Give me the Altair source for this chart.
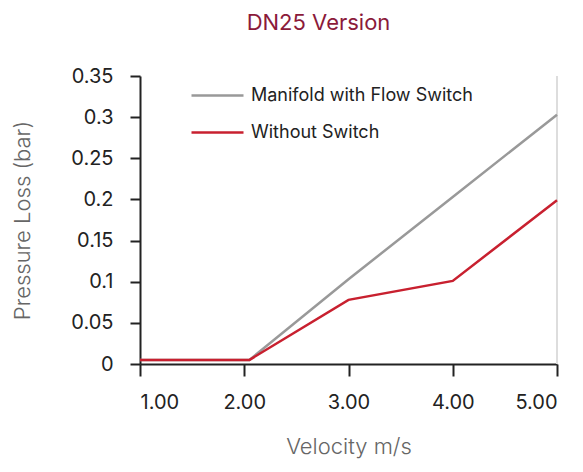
import altair as alt
import pandas as pd

velocity = [1.0, 2.05, 3.0, 4.0, 5.0]
manifold = [0.005, 0.005, 0.103, 0.203, 0.303]
without = [0.005, 0.005, 0.078, 0.101, 0.199]
series_names = ["Manifold with Flow Switch", "Without Switch"]
series_colors = ["#999999", "#C8202F"]

df_m = pd.DataFrame({"v": velocity, "p": manifold, "s": series_names[0]})
df_w = pd.DataFrame({"v": velocity, "p": without, "s": series_names[1]})

FONT = "Inter"
x_scale = alt.Scale(domain=[1, 5], nice=False, zero=False)

x_enc = alt.X("v:Q", scale=x_scale,
              axis=alt.Axis(title="Velocity m/s", values=[1, 2, 3, 4, 5], format=".2f",
                            grid=False, domainColor="#222222", domainWidth=2,
                            tickColor="#222222", tickWidth=2, tickSize=12,
                            labelFontSize=20, labelColor="#222222", labelPadding=16,
                            labelFont=FONT, titleFont=FONT, titleFontSize=22,
                            titleFontWeight=300, titleColor="#666666", titlePadding=24))
y_enc = alt.Y("p:Q", scale=alt.Scale(domain=[0, 0.35], nice=False),
              axis=alt.Axis(title="Pressure Loss (bar)", values=[0, 0.05, 0.1, 0.15, 0.2, 0.25, 0.3, 0.35],
                            format="~g", grid=False, domainColor="#222222", domainWidth=2,
                            tickColor="#222222", tickWidth=2, tickSize=10,
                            labelFontSize=20, labelColor="#222222", labelPadding=17,
                            labelFont=FONT, titleFont=FONT, titleFontSize=22,
                            titleFontWeight=300, titleColor="#666666", titleX=-118,
                            titleBaseline="middle"))
color_enc = alt.Color("s:N", scale=alt.Scale(domain=series_names, range=series_colors),
                      legend=alt.Legend(title=None, orient="none", legendX=50, legendY=-8,
                                        symbolType="stroke", symbolSize=2704, symbolStrokeWidth=2.5,
                                        labelFontSize=18, labelFont=FONT, labelColor="#222222",
                                        rowPadding=-13, labelOffset=6, labelLimit=400))

gray = alt.Chart(df_m).mark_line(strokeWidth=2.5).encode(x=x_enc, y=y_enc, color=color_enc)
red = alt.Chart(df_w).mark_line(strokeWidth=2.5).encode(x=x_enc, y=y_enc, color=color_enc)
edge = alt.Chart(pd.DataFrame({"v": [5.0]})).mark_rule(color="#dddddd", strokeWidth=2).encode(
    x=alt.X("v:Q", scale=x_scale), y=alt.value(0), y2=alt.value(288))

chart = alt.layer(edge, gray, red).properties(
    width=417, height=288,
    title=alt.Title("DN25 Version", color="#8B1A3A", fontSize=22, font=FONT,
                    fontWeight="normal", anchor="middle", dx=-30, offset=31),
    autosize=alt.AutoSizeParams(type="none"),
    padding={"left": 132, "top": 68, "right": 18, "bottom": 100},
).configure_view(stroke=None)

chart.save("out.html", embed_options={"renderer": "svg", "actions": False})
